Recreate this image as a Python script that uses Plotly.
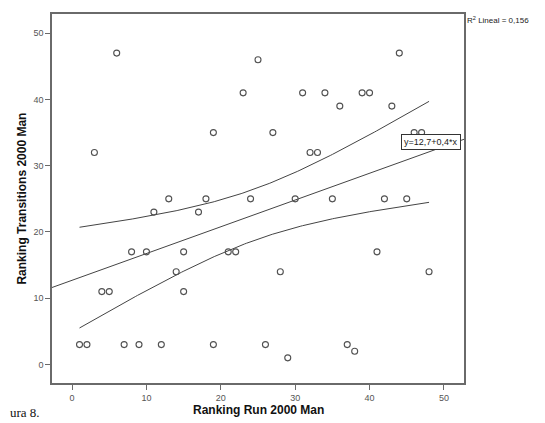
import numpy as np
import plotly.graph_objects as go

# Data
run_rank = [6, 25, 23, 19, 3, 13, 18, 24, 44, 31, 34, 39, 40, 36, 43, 27, 32, 33, 46, 47,
            30, 35, 42, 45, 11, 17, 8, 10, 15, 21, 22, 14, 4, 5, 15, 1, 2, 7, 9, 12,
            19, 26, 29, 37, 38, 28, 41, 48]
trans_rank = [47, 46, 41, 35, 32, 25, 25, 25, 47, 41, 41, 41, 41, 39, 39, 35, 32, 32, 35, 35,
              25, 25, 25, 25, 23, 23, 17, 17, 17, 17, 17, 14, 11, 11, 11, 3, 3, 3, 3, 3,
              3, 3, 1, 3, 2, 14, 17, 14]
x_ticks = [0, 10, 20, 30, 40, 50]
y_ticks = [0, 10, 20, 30, 40, 50]
x_title = "Ranking Run 2000 Man"
y_title = "Ranking Transitions 2000 Man"
eq_label = "y=12,7+0,4*x"
r2_label = "R<sup>2</sup> Lineal = 0,156"
caption = "ura 8."

x = np.array(run_rank, dtype=float)
y = np.array(trans_rank, dtype=float)
n = len(x)
b, a = np.polyfit(x, y, 1)
resid = y - (a + b * x)
s = np.sqrt(np.sum(resid ** 2) / (n - 2))
xbar = x.mean()
sxx = np.sum((x - xbar) ** 2)
t = 2.0129  # t(0.975, 46)

xr = [-2.7, 52.7]
yr = [-2.8, 52.9]
xl = np.array(xr)
xc = np.linspace(x.min(), x.max(), 200)
half = t * s * np.sqrt(1 / n + (xc - xbar) ** 2 / sxx)
fc = a + b * xc

line_col = "#444444"
fig = go.Figure()
fig.add_trace(go.Scatter(x=xl, y=a + b * xl, mode="lines",
                         line=dict(color=line_col, width=1), hoverinfo="skip"))
fig.add_trace(go.Scatter(x=xc, y=fc + half, mode="lines",
                         line=dict(color=line_col, width=1), hoverinfo="skip"))
fig.add_trace(go.Scatter(x=xc, y=fc - half, mode="lines",
                         line=dict(color=line_col, width=1), hoverinfo="skip"))
fig.add_trace(go.Scatter(x=x, y=y, mode="markers",
                         marker=dict(symbol="circle-open", size=6,
                                     color="#505050", line=dict(width=1.1))))

font = "Liberation Sans, Arial, sans-serif"
axis_common = dict(showgrid=False, zeroline=False, showline=True, mirror=True,
                   linecolor="#6a6a6a", linewidth=1.5, ticks="outside", ticklen=5,
                   tickcolor="#6a6a6a", tickwidth=1,
                   tickfont=dict(family=font, size=9, color="#555555"))

# the page body adds an 8px offset; compensate so the plot lands where the reference has it
fig.update_layout(
    width=537, height=415,
    margin=dict(l=44, r=81, t=4, b=40),
    paper_bgcolor="white", plot_bgcolor="white",
    showlegend=False,
    xaxis=dict(range=xr, tickvals=x_ticks, **axis_common),
    yaxis=dict(range=yr, tickvals=y_ticks, **axis_common),
    annotations=[
        dict(text="<b>" + x_title + "</b>", xref="paper", yref="paper",
             x=0.5, y=-0.073, xanchor="center", yanchor="middle", showarrow=False,
             font=dict(family=font, size=12, color="#111111")),
        dict(text="<b>" + y_title + "</b>", xref="paper", yref="paper",
             x=-0.075, y=0.5, xanchor="center", yanchor="middle", showarrow=False,
             textangle=-90, font=dict(family=font, size=12, color="#111111")),
        dict(text=r2_label, xref="paper", yref="paper",
             x=1.003, y=0.985, xanchor="left", yanchor="middle", showarrow=False,
             font=dict(family=font, size=8, color="#222222")),
        dict(text=eq_label, xref="paper", yref="paper",
             x=0.919, y=0.654, xanchor="center", yanchor="middle", showarrow=False,
             bordercolor="#333333", borderwidth=1, borderpad=2, bgcolor="white",
             font=dict(family=font, size=9, color="#222222")),
        dict(text=caption, xref="paper", yref="paper",
             x=-0.106, y=-0.08, xanchor="left", yanchor="middle", showarrow=False,
             font=dict(family="Liberation Serif, Times New Roman, serif", size=13,
                       color="#111111")),
    ],
)

fig.write_html("out.html")
